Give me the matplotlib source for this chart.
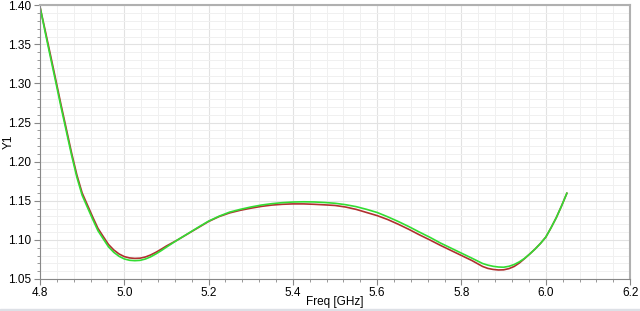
import numpy as np
import matplotlib
matplotlib.use('Agg')
import matplotlib.pyplot as plt
from matplotlib.ticker import MultipleLocator, FormatStrFormatter
from matplotlib.patches import Rectangle

plt.rcParams['font.family'] = ['Liberation Sans', 'DejaVu Sans']

# frequency points [GHz] (denser near the two minima)
freq = [4.8000, 4.8125, 4.8250, 4.8375, 4.8500, 4.8625, 4.8750, 4.8875, 4.9000,
        4.9125, 4.9250, 4.9375, 4.9500, 4.9625, 4.9750, 4.9875, 5.0000, 5.0125,
        5.0250, 5.0375, 5.0500, 5.0625, 5.0750, 5.0875, 5.1000,
        5.125, 5.150, 5.175, 5.200, 5.225, 5.250, 5.275, 5.300, 5.325, 5.350,
        5.375, 5.400, 5.425, 5.450, 5.475, 5.500, 5.525, 5.550, 5.575, 5.600,
        5.625, 5.650, 5.675, 5.700, 5.725, 5.750, 5.775, 5.800, 5.825,
        5.8500, 5.8625, 5.8750, 5.8875, 5.9000, 5.9125, 5.9250, 5.9375, 5.9500,
        5.9625, 5.9750, 5.9875, 6.0000, 6.0125, 6.0250, 6.0375, 6.0500]

# Y1 trace (red)
y1_red = [1.398, 1.3673, 1.336, 1.3045, 1.2725, 1.2418, 1.211, 1.183, 1.160,
          1.1446, 1.1293, 1.1147, 1.1043, 1.0941, 1.0871, 1.082, 1.0786, 1.0769,
          1.0763, 1.0766, 1.0781, 1.0807, 1.0841, 1.088, 1.0922,
          1.0995, 1.1075, 1.1155, 1.1235, 1.1298, 1.1345, 1.1378, 1.1405, 1.1428, 1.1445,
          1.1455, 1.146, 1.146, 1.1455, 1.1448, 1.144, 1.142, 1.139, 1.135, 1.131,
          1.126, 1.120, 1.1135, 1.1065, 1.0999, 1.093, 1.0865, 1.080, 1.0735,
          1.066, 1.0635, 1.0622, 1.0615, 1.0617, 1.0632, 1.066, 1.0705, 1.0762,
          1.0822, 1.0885, 1.0955, 1.1035, 1.1155, 1.1285, 1.1435, 1.1596]

# Y1 trace (green)
y1_green = [1.398, 1.365, 1.333, 1.3015, 1.2695, 1.2388, 1.208, 1.180, 1.157,
            1.1416, 1.1263, 1.1117, 1.1013, 1.0911, 1.0841, 1.079, 1.0756, 1.0739,
            1.0734, 1.0738, 1.0755, 1.0783, 1.082, 1.0862, 1.0907,
            1.0995, 1.1077, 1.116, 1.124, 1.1303, 1.1355, 1.139, 1.142, 1.1445, 1.1463,
            1.1476, 1.1484, 1.1487, 1.1485, 1.1478, 1.1468, 1.145, 1.1425, 1.139, 1.135,
            1.1295, 1.1235, 1.117, 1.110, 1.1033, 1.096, 1.0895, 1.083, 1.0765,
            1.0698, 1.0677, 1.0662, 1.0653, 1.065, 1.0662, 1.0685, 1.072, 1.0765,
            1.0822, 1.0885, 1.0955, 1.1035, 1.1155, 1.1285, 1.1435, 1.1596]

fig = plt.figure(figsize=(6.4, 3.11), dpi=100)
ax = fig.add_axes([0.0625, 0.103, 0.922, 0.880])

ax.plot(freq, y1_red, color='#b03030', lw=1.2)
ax.plot(freq, y1_green, color='#33dd33', lw=1.2)

ax.set_xlim(4.8, 6.2)
ax.set_ylim(1.05, 1.40)
ax.xaxis.set_major_locator(MultipleLocator(0.2))
ax.xaxis.set_minor_locator(MultipleLocator(0.04))
ax.yaxis.set_major_locator(MultipleLocator(0.05))
ax.yaxis.set_minor_locator(MultipleLocator(0.01))
ax.xaxis.set_major_formatter(FormatStrFormatter('%.1f'))
ax.yaxis.set_major_formatter(FormatStrFormatter('%.2f'))

ax.grid(which='major', color='#e2e2e2', lw=0.8)
ax.grid(which='minor', color='#f0f0f0', lw=0.7)
ax.set_axisbelow(True)

ax.tick_params(which='both', colors='#888888', labelcolor='black', labelsize=8.5)
ax.tick_params(which='major', length=4, width=0.8)
ax.tick_params(which='minor', length=2.5, width=0.6)
ax.tick_params(axis='x', which='major', pad=1.5)
ax.tick_params(axis='y', which='major', pad=2.5)

for s in ['left', 'bottom']:
    ax.spines[s].set_color('#888888')
for s in ['top', 'right']:
    ax.spines[s].set_color('#b0b0b0')
    ax.spines[s].set_linewidth(1.5)

ax.set_xlabel('Freq [GHz]', fontsize=8.5)
ax.xaxis.set_label_coords(0.5, -0.063)
ax.set_ylabel('Y1', fontsize=8.5)
ax.yaxis.set_label_coords(-0.043, 0.5)

# light band along the bottom edge
fig.patches.append(Rectangle((0, 0), 1, 0.008, transform=fig.transFigure,
                             color='#dde0e6', zorder=0))

fig.savefig('out.png', dpi=100)
